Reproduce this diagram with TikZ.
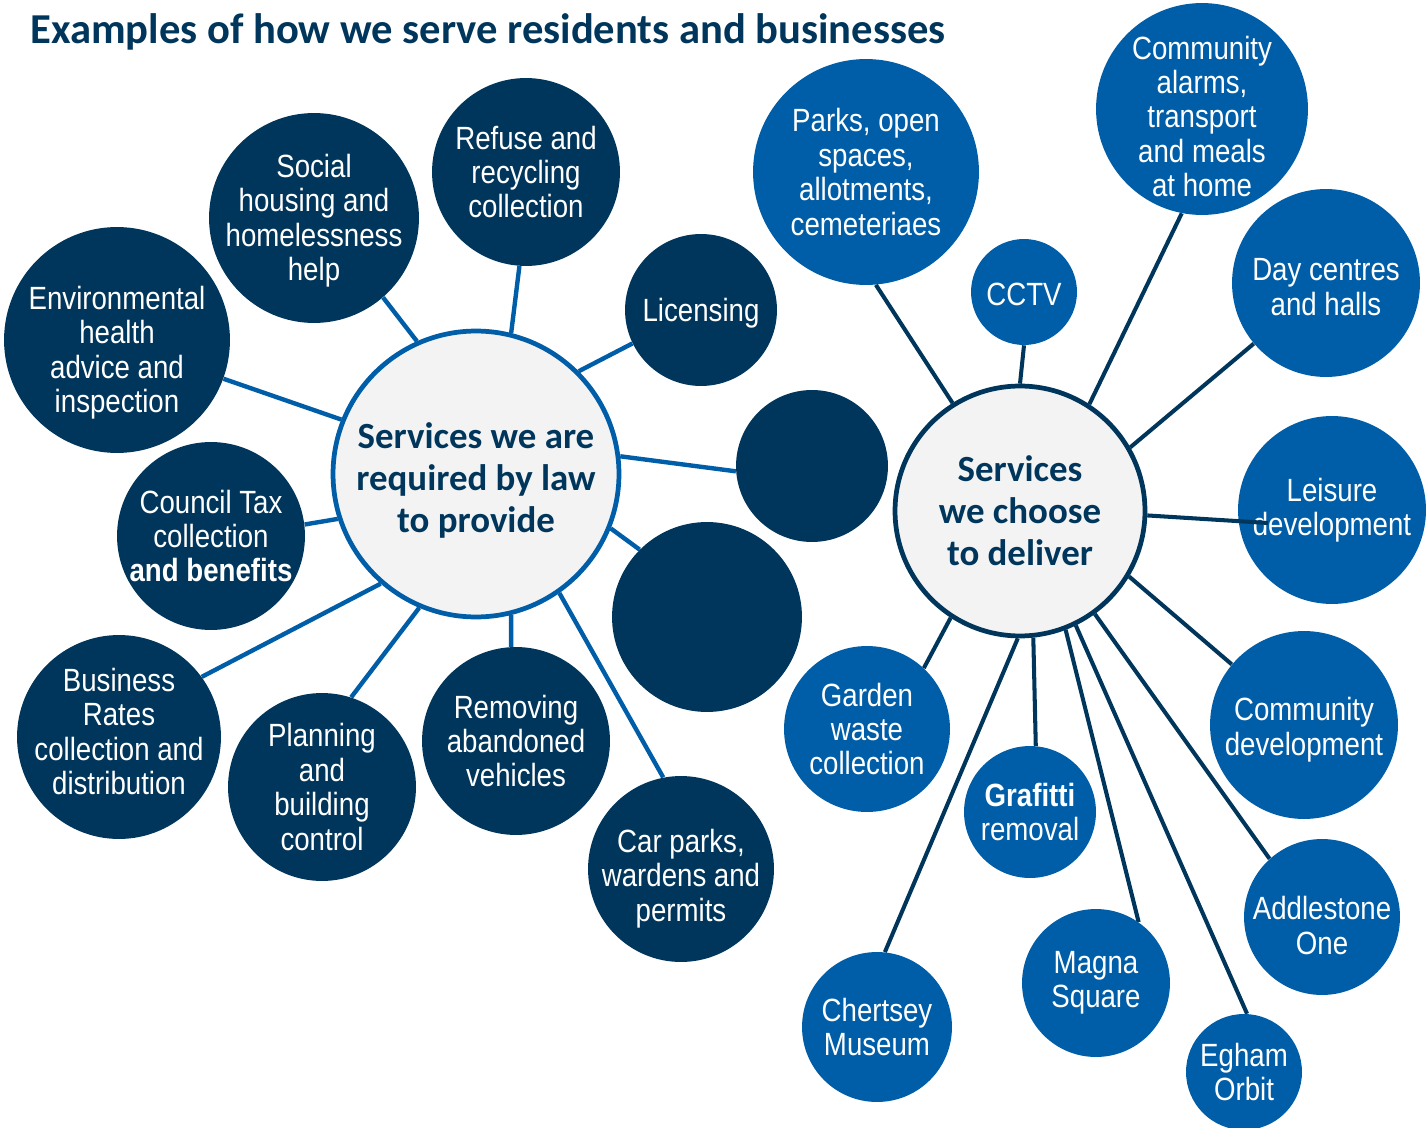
\documentclass[tikz,border=0pt]{standalone}
\usepackage{fontspec}
\setmainfont{Carlito}
\newfontfamily\narrowfont[FakeStretch=0.86]{Liberation Sans}
\usepackage{xcolor}
\definecolor{lawnavy}{RGB}{0, 54, 91}
\definecolor{choiceblue}{RGB}{0, 94, 168}
\definecolor{hubgrey}{RGB}{243, 243, 243}
\usepackage{tikz}
\usetikzlibrary{
  backgrounds
}
% text set a little lower (or higher) than the circle centre
\newcommand{\lowered}[2]{\makebox[0pt]{\raisebox{-#1}[\height][\depth]{\begin{tabular}{@{}c@{}}#2\end{tabular}}}}

\begin{document}
\begin{tikzpicture}[x=0.02cm, y=-0.02cm,
    hub/.style={circle, draw=#1, line width=2.7pt, fill=hubgrey, text=lawnavy,
      align=center, inner sep=0pt, font=\bfseries\fontsize{21}{24}\selectfont},
    lawsvc/.style={circle, fill=lawnavy, text=white, align=center, inner sep=0pt,
      minimum size=#1*0.04cm, font=\narrowfont\fontsize{18.3}{19.6}\selectfont},
    choicesvc/.style={lawsvc=#1, fill=choiceblue},
    lawspoke/.style={choiceblue, line width=2.5pt},
    choicespoke/.style={lawnavy, line width=2.3pt}]

  \useasboundingbox (0, 0) rectangle (1426, 1128);

  % title
  \node[anchor=base west, text=lawnavy, inner sep=0pt, font=\bfseries\fontsize{24.25}{28}\selectfont]
    (title) at (30, 44) {Examples of how we serve residents and businesses};

  % the two hubs
  \node[hub=choiceblue, minimum size=5.72cm] (law) at (476, 474)
    {\lowered{0.16cm}{Services we are\\required by law\\to provide}};
  \node[hub=lawnavy, minimum size=5cm] (choice) at (1020, 511) {Services\\we choose\\to deliver};

  % services we are required by law to provide
  \node[lawsvc=94] (refuse) at (526, 172) {Refuse and\\recycling\\collection};
  \node[lawsvc=105] (housing) at (314, 218) {\lowered{0.08cm}{Social\\housing and\\homelessness\\help}};
  \node[lawsvc=113] (envhealth) at (117, 340) {\lowered{0.28cm}{Environmental\\health\\advice and\\inspection}};
  \node[lawsvc=76] (licensing) at (701, 310) {\lowered{0.09cm}{Licensing}};
  \node[lawsvc=76] (blanka) at (812, 466) {};
  \node[lawsvc=95] (blankb) at (707, 617) {};
  \node[lawsvc=94] (counciltax) at (211, 536) {Council Tax\\collection\\\textbf{and benefits}};
  \node[lawsvc=102] (bizrates) at (119, 737) {\lowered{-0.02cm}{Business\\Rates\\collection and\\distribution}};
  \node[lawsvc=94] (planning) at (322, 787) {Planning\\and\\building\\control};
  \node[lawsvc=94] (vehicles) at (516, 741) {Removing\\abandoned\\vehicles};
  \node[lawsvc=93] (carparks) at (681, 869) {\lowered{0.22cm}{Car parks,\\wardens and\\permits}};

  % services we choose to deliver
  \node[choicesvc=113] (parks) at (866, 172) {Parks, open\\spaces,\\allotments,\\cemeteriaes};
  \node[choicesvc=53] (cctv) at (1024, 292) {\lowered{0.13cm}{CCTV}};
  \node[choicesvc=106] (alarms) at (1202, 109) {\lowered{0.24cm}{Community\\alarms,\\transport\\and meals\\at home}};
  \node[choicesvc=94] (daycentres) at (1326, 283) {\lowered{0.16cm}{Day centres\\and halls}};
  \node[choicesvc=94] (leisure) at (1332, 510) {Leisure\\development};
  \node[choicesvc=94] (commdev) at (1304, 725) {\lowered{0.12cm}{Community\\development}};
  \node[choicesvc=78] (addlestone) at (1322, 917) {\lowered{0.26cm}{Addlestone\\One}};
  \node[choicesvc=58] (egham) at (1244, 1072) {Egham\\Orbit};
  \node[choicesvc=74] (magna) at (1096, 983) {Magna\\Square};
  \node[choicesvc=75] (chertsey) at (877, 1027) {Chertsey\\Museum};
  \node[choicesvc=66] (grafitti) at (1030, 812) {\textbf{Grafitti}\\removal};
  \node[choicesvc=83] (garden) at (867, 729) {Garden\\waste\\collection};

  % spokes, behind the circles
  \begin{scope}[on background layer]
    \foreach \a/\svc/\b in {76/refuse/-94, 114/housing/-49, 158/envhealth/-20,
        45/licensing/206, 7.5/blanka/184, -22/blankb/135, 198/counciltax/7,
        229/bizrates/36, -113.5/planning/72, -76/vehicles/93, -55.5/carparks/101} {
      \draw[lawspoke] (law.\a) -- (\svc.\b);
    }
    \foreach \a/\svc/\b in {122/parks/-85, 90/cctv/-90, 57/alarms/-101, 30/daycentres/-140,
        -31/commdev/140, -54/addlestone/132, -64.4/egham/87, -69.3/magna/55,
        -84.7/grafitti/85, -91.3/chertsey/84, -123.4/garden/47} {
      \draw[choicespoke] (choice.\a) -- (\svc.\b);
    }
  \end{scope}

  % this one runs over the leisure circle
  \coordinate (leisureend) at (1268, 523);
  \draw[choicespoke] (choice.-2) -- (leisureend);

\end{tikzpicture}
\end{document}
